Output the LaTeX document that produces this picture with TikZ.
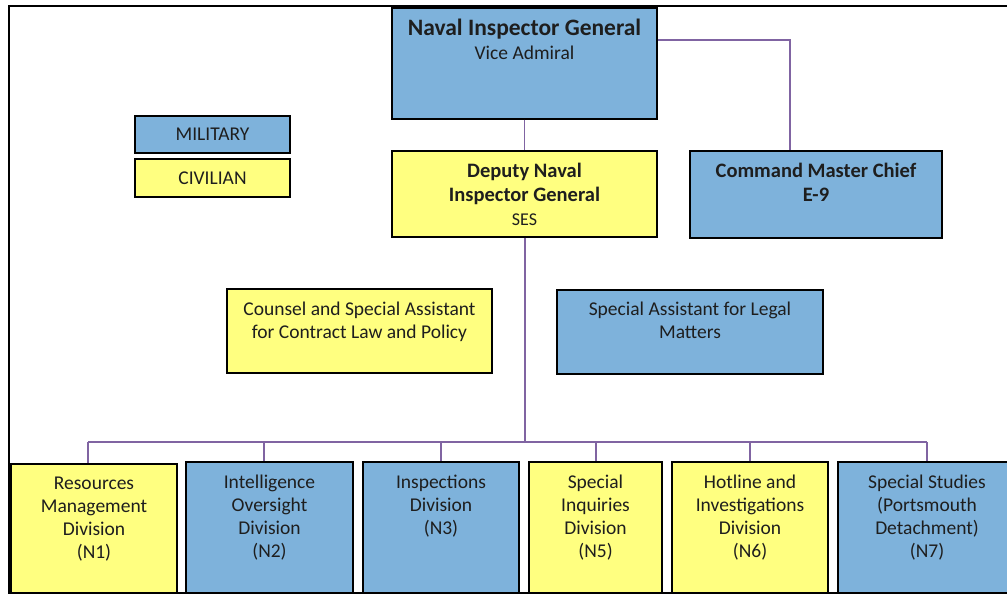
\documentclass[tikz,border=0pt]{standalone}
\usepackage{fontspec}
\setmainfont{Carlito}
\definecolor{milblue}{RGB}{126,178,219}
\definecolor{civyel}{RGB}{255,255,128}
\definecolor{linkpur}{RGB}{128,100,162}
\definecolor{txtc}{RGB}{30,30,30}
\begin{document}
\begin{tikzpicture}[x=1pt,y=-1pt,
  box/.style={draw=black, line width=1.5pt, rectangle, inner sep=0pt},
  milbox/.style={box, fill=milblue},
  civbox/.style={box, fill=civyel},
  link/.style={draw=linkpur, line width=1.8pt},
  txt/.style={font=\fontsize{19.5}{23}\selectfont, text=txtc, align=center, inner sep=0pt, anchor=north},
  stxt/.style={font=\fontsize{19.5}{23}\selectfont, text=txtc, inner sep=0pt, anchor=base},
  btxt/.style={font=\fontsize{20.5}{24}\selectfont\bfseries, text=txtc, align=center, inner sep=0pt, anchor=north}]
\clip (0,0) rectangle (1007,596);
\fill[white] (0,0) rectangle (1007,596);
% outer frame
\draw[line width=2pt, black] (9,6) rectangle (1012,593);
% boxes
\node[milbox, minimum width=265pt, minimum height=111pt] (nig) at (524.5,63.5) {};
\node[civbox, minimum width=265pt, minimum height=86pt] (dep) at (524.5,194) {};
\node[milbox, minimum width=252pt, minimum height=87pt] (cmc) at (816,194.5) {};
\node[milbox, minimum width=155pt, minimum height=37pt] (mil) at (212.5,134.5) {};
\node[civbox, minimum width=155pt, minimum height=38pt] (civ) at (212.5,178) {};
\node[civbox, minimum width=265pt, minimum height=84pt] (cns) at (359.5,331) {};
\node[milbox, minimum width=266pt, minimum height=84pt] (lgl) at (690,332) {};
\node[civbox, minimum width=166pt, minimum height=129pt] (n1) at (94,528.5) {};
\node[milbox, minimum width=167pt, minimum height=131pt] (n2) at (269.5,527.5) {};
\node[milbox, minimum width=156pt, minimum height=131pt] (n3) at (441,527.5) {};
\node[civbox, minimum width=133pt, minimum height=131pt] (n5) at (595.5,527.5) {};
\node[civbox, minimum width=156pt, minimum height=131pt] (n6) at (750,527.5) {};
\node[milbox, minimum width=178pt, minimum height=131pt] (n7) at (927,527.5) {};
% connectors
\coordinate (cj) at (790,40);
\coordinate (bus) at (525,442);
\coordinate (b1) at (88,442);
\coordinate (b2) at (264,442);
\coordinate (b3) at (441,442);
\coordinate (b5) at (596,442);
\coordinate (b6) at (750,442);
\coordinate (b7) at (927,442);
\draw[link] (nig.south) -- (dep.north);
\draw[link] (nig.east |- cj) -- (cj) -- (cj |- cmc.north);
\draw[link] (dep.south -| bus) -- (bus);
\draw[link] (b1) -- (b7);
\draw[link] (b1) -- (b1 |- n1.north);
\draw[link] (b2) -- (b2 |- n2.north);
\draw[link] (b3) -- (b3 |- n3.north);
\draw[link] (b5) -- (b5 |- n5.north);
\draw[link] (b6) -- (b6 |- n6.north);
\draw[link] (b7) -- (b7 |- n7.north);
% texts
\node[font=\fontsize{23.5}{28}\selectfont\bfseries, text=txtc, inner sep=0pt, anchor=base] (nigt) at (524.5,36) {Naval Inspector General};
\node[stxt] (nigs) at (524.5,60) {Vice Admiral};
\node[btxt] (dept) at (524.5,160.2) {\strut Deputy Naval\\Inspector General\\{\fontsize{18}{24}\selectfont\mdseries SES}};
\node[btxt] (cmct) at (816,160.2) {\strut Command Master Chief\\E-9};
\node[stxt] (milt) at (212.5,140.5) {MILITARY};
\node[stxt] (civt) at (212.5,185) {CIVILIAN};
\node[txt] (cnst) at (359.5,298.9) {\strut Counsel and Special Assistant\\for Contract Law and Policy};
\node[txt] (lglt) at (690,298.9) {\strut Special Assistant for Legal\\Matters};
\node[txt] (n1t) at (94,472.9) {\strut Resources\\Management\\Division\\(N1)};
\node[txt] (n2t) at (269.5,471.9) {\strut Intelligence\\Oversight\\Division\\(N2)};
\node[txt] (n3t) at (441,471.9) {\strut Inspections\\Division\\(N3)};
\node[txt] (n5t) at (595.5,471.9) {\strut Special\\Inquiries\\Division\\(N5)};
\node[txt] (n6t) at (750,471.9) {\strut Hotline and\\Investigations\\Division\\(N6)};
\node[txt] (n7t) at (927,471.9) {\strut Special Studies\\(Portsmouth\\Detachment)\\(N7)};
\end{tikzpicture}
\end{document}
